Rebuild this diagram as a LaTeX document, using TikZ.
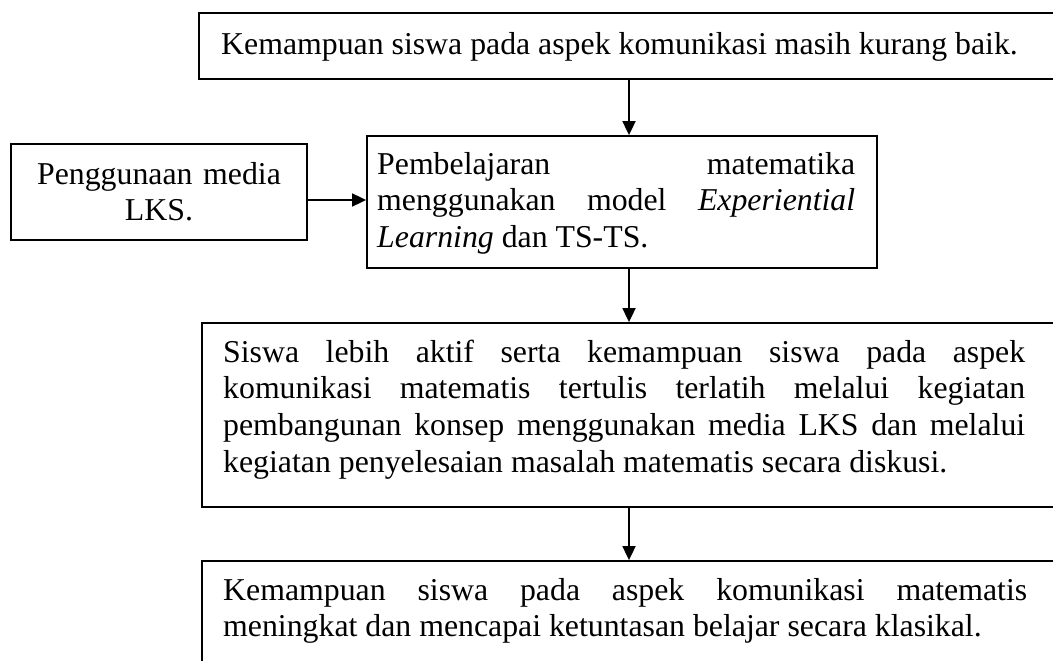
\documentclass[tikz,border=0pt]{standalone}
\usepackage{fontspec}
\setmainfont{Liberation Serif}
\usetikzlibrary{arrows.meta}
\begin{document}
\tolerance=10000
\hyphenpenalty=10000
\exhyphenpenalty=10000
\begin{tikzpicture}[x=1pt,y=-1pt,
  font=\fontsize{31.8pt}{36.7pt}\selectfont,
  box/.style={draw, line width=1.8pt, inner sep=0pt, rectangle},
  txt/.style={inner sep=0pt, align=justify},
  ctxt/.style={inner sep=0pt, align=center},
  arr/.style={line width=1.8pt, -{Triangle[length=14pt,width=13pt]}}]
\useasboundingbox (0,0) rectangle (1053,661);
\clip (0,0) rectangle (1053,661);
% boxes (right edges run past the page, as in the reference)
\node[box, minimum width=901pt, minimum height=66pt] (b1) at (649.5,46) {};
\node[box, minimum width=296pt, minimum height=96pt] (b2) at (159,192) {};
\node[box, minimum width=510pt, minimum height=132pt] (b3) at (622,202) {};
\node[box, minimum width=898pt, minimum height=184pt] (b4) at (651,415) {};
\node[box, minimum width=898pt, minimum height=150pt] (b5) at (651,636) {};
% texts
\node[inner sep=0pt, anchor=base west] (t1) at (221,55)
  {Kemampuan siswa pada aspek komunikasi masih kurang baik.};
\node[ctxt, text width=290pt, anchor=base] (t2) at (159,184)
  {Penggunaan media\\LKS.};
\node[txt, text width=478pt, anchor=base west] (t3) at (377,174)
  {Pembelajaran matematika\linebreak menggunakan model \textit{Experiential}\linebreak \textit{Learning} dan TS-TS.};
\node[txt, text width=802pt, anchor=base west] (t4) at (223,362)
  {Siswa lebih aktif serta kemampuan siswa pada aspek\linebreak komunikasi matematis tertulis terlatih melalui kegiatan\linebreak pembangunan konsep menggunakan media LKS dan melalui\linebreak kegiatan penyelesaian masalah matematis secara diskusi.};
\node[txt, text width=804pt, anchor=base west] (t5) at (223,600)
  {Kemampuan siswa pada aspek komunikasi matematis\linebreak meningkat dan mencapai ketuntasan belajar secara klasikal.};
% connectors
\coordinate (ax) at (629,0);
\coordinate (ay) at (0,200);
\draw[arr] (b1.south -| ax) -- (b3.north -| ax);
\draw[arr] (b2.east |- ay) -- (b3.west |- ay);
\draw[arr] (b3.south -| ax) -- (b4.north -| ax);
\draw[arr] (b4.south -| ax) -- (b5.north -| ax);
\end{tikzpicture}
\end{document}
